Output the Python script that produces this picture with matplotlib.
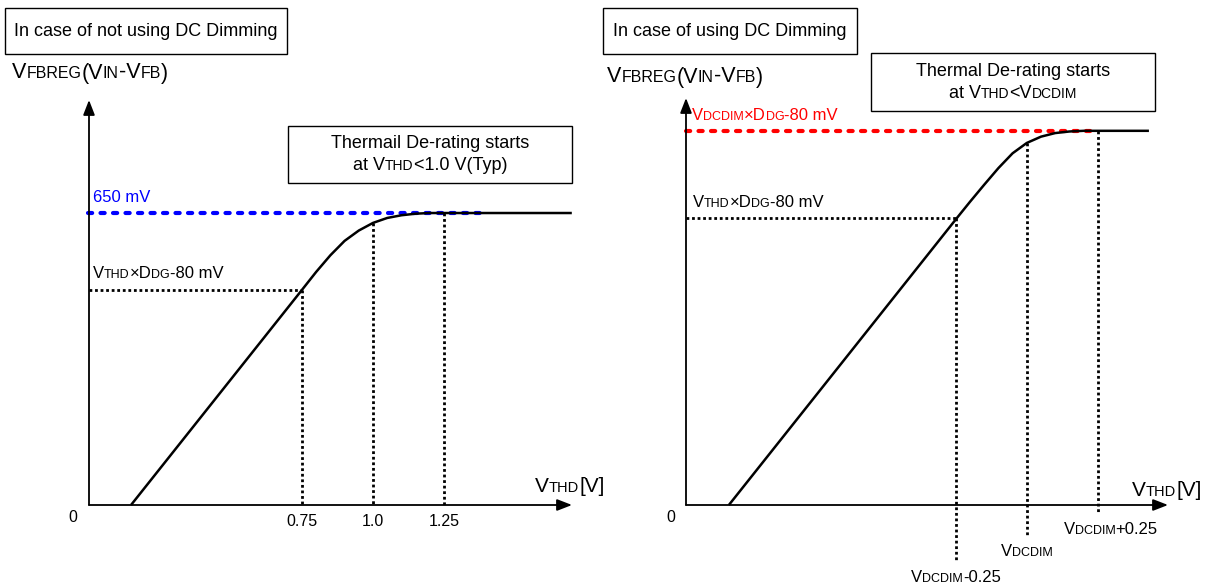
import matplotlib
matplotlib.use("Agg")
import matplotlib.pyplot as plt
from matplotlib.patches import Rectangle
from matplotlib.offsetbox import TextArea, HPacker, AnnotationBbox

plt.rcParams['font.family'] = ['Liberation Sans', 'DejaVu Sans']

# curve (V, mV)
left_v = [0.148, 0.75, 0.80, 0.85, 0.90, 0.95, 1.0, 1.05, 1.10, 1.15, 1.20, 1.25, 1.70]
left_mv = [0, 479, 519, 556, 588, 611, 628, 639, 645, 648.5, 650, 650, 650]
right_v = [0.151, 0.954, 1.0, 1.05, 1.10, 1.15, 1.20, 1.25, 1.30, 1.35, 1.40, 1.45, 1.630]
right_mv = [0, 639, 675, 713, 750, 783, 806, 820, 828, 831.5, 833, 833, 833]

# marked levels
left_ticks = [0.75, 1.0, 1.25]
left_tick_labels = ['0.75', '1.0', '1.25']
left_top_mv = 650
left_dg_mv = 479
vdcdim = 1.20
right_ticks = [vdcdim - 0.25, vdcdim, vdcdim + 0.25]
right_top_mv = 833
right_dg_mv = 639

W, H = 1217, 586
PXV = 284.0      # pixels per volt
PXMV = 0.4492    # pixels per mV
Y0 = 505         # pixel row of the x axis


def px(x, y):
    return (x / W, 1 - y / H)


def rich(ax, x, y, parts, xycoords=None, off=(0, 0), align=(0.5, 0.5),
         big=12, small=9, color='black'):
    boxes = [TextArea(t, textprops=dict(fontsize=small if s else big, color=color))
             for t, s in parts]
    pack = HPacker(children=boxes, align='baseline', pad=0, sep=0)
    ab = AnnotationBbox(pack, (x, y), xycoords=xycoords if xycoords is not None else ax.transData,
                        xybox=(off[0] * 0.72, off[1] * 0.72), boxcoords='offset points',
                        box_alignment=align, frameon=False, pad=0, annotation_clip=False)
    ax.add_artist(ab)


def make_ax(x0):
    ax = fig.add_axes([0, 0, 1, 1])
    ax.set_xlim(-x0 / PXV, (W - x0) / PXV)
    ax.set_ylim(-(H - Y0) / PXMV, Y0 / PXMV)
    ax.axis('off')
    ax.patch.set_visible(False)
    return ax


def axes_arrows(ax, xtip, ytip):
    st = dict(arrowstyle='-|>,head_length=0.9,head_width=0.35', lw=1.3, color='black',
              shrinkA=0, shrinkB=0)
    ax.annotate('', xy=(xtip, 0), xytext=(0, 0), arrowprops=st)
    ax.annotate('', xy=(0, ytip), xytext=(0, 0), arrowprops=st)


def vdot(ax, x, y1, y2):
    ax.plot([x, x], [y1, y2], color='black', lw=2.0, linestyle=(0, (1, 1)), clip_on=False)


def hdot(ax, x1, x2, y, color='black', lw=2.0, dash=(1, 1), cap='butt'):
    ax.plot([x1, x2], [y, y], color=color, lw=lw, linestyle=(0, dash),
            dash_capstyle=cap, clip_on=False)


fig = plt.figure(figsize=(W / 100, H / 100), dpi=100)

# ---------------- left panel ----------------
axl = make_ax(89)
axes_arrows(axl, (572 - 89) / PXV, (Y0 - 100) / PXMV)
hdot(axl, -0.005, (488 - 89) / PXV, left_top_mv, color='#0000ff', lw=3, dash=(1, 2), cap='round')
hdot(axl, 0, left_ticks[0], left_dg_mv)
curve_at = dict(zip(left_v, left_mv))
vdot(axl, left_ticks[0], left_dg_mv, 0)
vdot(axl, left_ticks[1], curve_at[1.0], 0)
vdot(axl, left_ticks[2], left_top_mv, 0)
axl.plot(left_v, left_mv, color='black', lw=1.8, solid_capstyle='butt',
         solid_joinstyle='round', clip_on=False)

for t, lab in zip(left_ticks, left_tick_labels):
    axl.text(t, -17 / PXMV, lab, fontsize=11.5, ha='center', va='center')
axl.text(-16 / PXV, -13 / PXMV, '0', fontsize=11.5, ha='center', va='center')
rich(axl, 0, left_top_mv, [('650 mV', False)], off=(4, 16), align=(0, 0.5), color='#0000ff')
rich(axl, 0, left_dg_mv, [('V', False), ('THD', True), ('\u00d7D', False), ('DG', True),
                          ('-80 mV', False)], off=(4, 16), align=(0, 0.5))
rich(axl, (535 - 89) / PXV, 0, [('V', False), ('THD', True), ('[V]', False)],
     off=(0, 18), align=(0, 0.5), big=15, small=10.5)

# ---------------- right panel ----------------
axr = make_ax(686)
axes_arrows(axr, (1168 - 686) / PXV, (Y0 - 98) / PXMV)
hdot(axr, 0, right_ticks[2], right_top_mv, color='#ff0000', lw=3, dash=(1, 2), cap='round')
hdot(axr, 0, right_ticks[0], right_dg_mv)
rcurve = dict(zip(right_v, right_mv))
vdot(axr, right_ticks[0], right_dg_mv, -(562 - Y0) / PXMV)
vdot(axr, right_ticks[1], rcurve[1.20], -(537 - Y0) / PXMV)
vdot(axr, right_ticks[2], right_top_mv, -(512 - Y0) / PXMV)
axr.plot(right_v, right_mv, color='black', lw=1.8, solid_capstyle='butt',
         solid_joinstyle='round', clip_on=False)

axr.text(-15 / PXV, -13 / PXMV, '0', fontsize=11.5, ha='center', va='center')
rich(axr, right_ticks[0], 0, [('V', False), ('DCDIM', True), ('-0.25', False)],
     off=(0, -72), align=(0.5, 0.5))
rich(axr, right_ticks[1], 0, [('V', False), ('DCDIM', True)], off=(0, -46))
rich(axr, right_ticks[2], 0, [('V', False), ('DCDIM', True), ('+0.25', False)],
     off=(13, -24))
rich(axr, 0, right_top_mv, [('V', False), ('DCDIM', True), ('\u00d7D', False), ('DG', True),
                            ('-80 mV', False)], off=(6, 15), align=(0, 0.5), color='#ff0000')
rich(axr, 0, right_dg_mv, [('V', False), ('THD', True), ('\u00d7D', False), ('DG', True),
                           ('-80 mV', False)], off=(7, 15), align=(0, 0.5))
rich(axr, (1132 - 686) / PXV, 0, [('V', False), ('THD', True), ('[V]', False)],
     off=(0, 15), align=(0, 0.5), big=15, small=10.5)

# ---------------- boxes and axis titles ----------------
def box(x1, y1, x2, y2):
    fig.patches.append(Rectangle(px(x1, y2), (x2 - x1) / W, (y2 - y1) / H,
                                 transform=fig.transFigure, fill=False,
                                 edgecolor='black', lw=1.0))


box(5, 8, 287, 54)
fig.text(*px(146, 31), 'In case of not using DC Dimming', fontsize=13, ha='center', va='center')
box(603, 8, 857, 54)
fig.text(*px(730, 31), 'In case of using DC Dimming', fontsize=13, ha='center', va='center')

ylab = [('V', False), ('FBREG', True), ('(V', False), ('IN', True), ('-V', False),
        ('FB', True), (')', False)]
rich(axl, 12, H - 73, ylab, xycoords='figure pixels', align=(0, 0.5), big=15.5, small=11.5)
rich(axr, 607, H - 77, ylab, xycoords='figure pixels', align=(0, 0.5), big=15.5, small=11.5)

box(288, 126, 572, 183)
fig.text(*px(430, 143), 'Thermail De-rating starts', fontsize=13, ha='center', va='center')
rich(axl, 430, H - 165, [('at V', False), ('THD', True), ('<1.0 V(Typ)', False)],
     xycoords='figure pixels', big=13, small=10)
box(871, 53, 1155, 111)
fig.text(*px(1013, 71), 'Thermal De-rating starts', fontsize=13, ha='center', va='center')
rich(axr, 1013, H - 93, [('at V', False), ('THD', True), ('<V', False), ('DCDIM', True)],
     xycoords='figure pixels', big=13, small=10)

fig.savefig('out.png', dpi=100)
